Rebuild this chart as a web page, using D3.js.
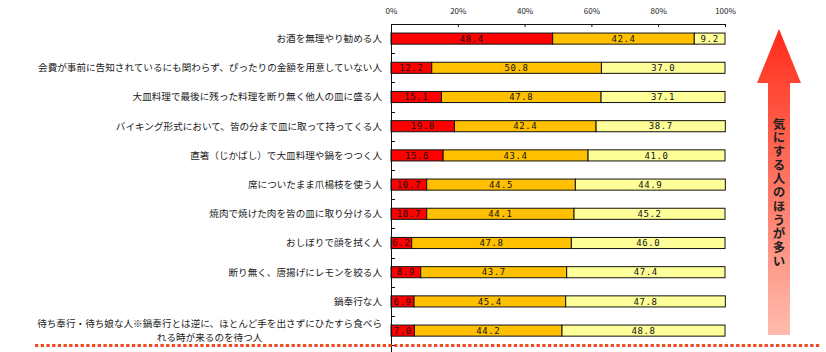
<!DOCTYPE html>
<html>
<head>
<meta charset="utf-8">
<script src="https://cdn.jsdelivr.net/npm/d3@7"></script>
<style>
  body { margin: 0; background: #fff; }
  svg { display: block; }
  .cat { font-family: "Noto Sans CJK JP", sans-serif; font-size: 9.6px; fill: #1a1a1a; }
  .val { font-family: "DejaVu Sans Mono", monospace; font-size: 9px; fill: #111; }
  .x.axis text { font-family: "Noto Sans CJK JP", sans-serif; font-size: 8px; fill: #222; }
</style>
</head>
<body>
<div id="chart"></div>
<script>
var categories = [
  "お酒を無理やり勧める人",
  "会費が事前に告知されているにも関わらず、ぴったりの金額を用意していない人",
  "大皿料理で最後に残った料理を断り無く他人の皿に盛る人",
  "バイキング形式において、皆の分まで皿に取って持ってくる人",
  "直箸（じかばし）で大皿料理や鍋をつつく人",
  "席についたまま爪楊枝を使う人",
  "焼肉で焼けた肉を皆の皿に取り分ける人",
  "おしぼりで顔を拭く人",
  "断り無く、唐揚げにレモンを絞る人",
  "鍋奉行な人",
  "待ち奉行・待ち娘な人※鍋奉行とは逆に、ほとんど手を出さずにひたすら食べら\nれる時が来るのを待つ人"
]
var seriesA = [48.4, 12.2, 15.1, 19.0, 15.6, 10.7, 10.7, 6.2, 8.9, 6.9, 7.0]
var seriesB = [42.4, 50.8, 47.8, 42.4, 43.4, 44.5, 44.1, 47.8, 43.7, 45.4, 44.2]
var seriesC = [9.2, 37.0, 37.1, 38.7, 41.0, 44.9, 45.2, 46.0, 47.4, 47.8, 48.8]
var tickValues = [0, 20, 40, 60, 80, 100]
var arrowText = "気にする人のほうが多い"

var colors = ["#ff0000", "#ffc000", "#ffff99"]

var W = 826, H = 352
var svg = d3.select("#chart").append("svg").attr("width", W).attr("height", H)

var x = d3.scaleLinear().domain([0, 100]).range([391, 725])
var y = d3.scaleBand().domain(d3.range(categories.length))
    .range([24, 345.2]).paddingInner(0.62).paddingOuter(0.31)

// stacked data
var rows = categories.map(function(c, i) { return {a: seriesA[i], b: seriesB[i], c: seriesC[i]} })
var layers = d3.stack().keys(["a", "b", "c"])(rows)

var layer = svg.selectAll(".layer").data(layers).enter().append("g")
    .attr("class", "layer")
    .attr("fill", function(d, i) { return colors[i] })

layer.selectAll("rect").data(function(d) { return d }).enter().append("rect")
    .attr("x", function(d) { return x(d[0]) })
    .attr("y", function(d, i) { return y(i) })
    .attr("width", function(d) { return x(d[1]) - x(d[0]) })
    .attr("height", y.bandwidth())
    .attr("stroke", "#111")
    .attr("stroke-width", 1)

layer.selectAll("text").data(function(d) { return d }).enter().append("text")
    .attr("class", "val")
    .attr("x", function(d) { return (x(d[0]) + x(d[1])) / 2 })
    .attr("y", function(d, i) { return y(i) + y.bandwidth() / 2 })
    .attr("dy", "0.36em")
    .attr("text-anchor", "middle")
    .style("letter-spacing", "0.6px")
    .text(function(d) { return (d[1] - d[0]).toFixed(1) })

// top axis
var xAxis = d3.axisTop(x).tickValues(tickValues)
    .tickFormat(function(d) { return d + "%" })
    .tickSizeInner(-3).tickSizeOuter(0).tickPadding(10.5)
svg.append("g").attr("class", "x axis")
    .attr("transform", "translate(0,24)")
    .call(xAxis)
svg.selectAll(".x.axis path, .x.axis line").attr("stroke", "#111")

// left axis line with boundary ticks
svg.append("line").attr("x1", x(0) + 0.5).attr("x2", x(0) + 0.5)
    .attr("y1", 24).attr("y2", H).attr("stroke", "#111")
var gap = (y.step() - y.bandwidth()) / 2
svg.selectAll(".btick").data(d3.range(1, categories.length + 1)).enter().append("line")
    .attr("x1", x(0)).attr("x2", x(0) + 4)
    .attr("y1", function(i) { return Math.round(y(i - 1) + y.bandwidth() + gap) + 0.5 })
    .attr("y2", function(i) { return Math.round(y(i - 1) + y.bandwidth() + gap) + 0.5 })
    .attr("stroke", "#111")

// category labels (wrapped label: first line right-aligned, second centred under it)
var labelRight = 382
categories.forEach(function(c, i) {
  var lines = c.split("\n")
  var cy = y(i) + y.bandwidth() / 2
  var t = svg.append("text").attr("class", "cat")
  if (lines.length === 1) {
    t.attr("x", labelRight).attr("y", cy).attr("dy", "0.36em")
      .attr("text-anchor", "end").text(c)
  } else {
    var s1 = t.append("tspan").attr("x", labelRight).attr("y", cy - 6.8)
      .attr("dy", "0.36em").attr("text-anchor", "end").text(lines[0])
    var w1 = s1.node().getComputedTextLength()
    t.append("tspan").attr("x", labelRight - w1 / 2).attr("y", cy + 7.2)
      .attr("dy", "0.36em").attr("text-anchor", "middle").text(lines[1])
  }
})

// dotted red line
svg.append("line").attr("x1", 35).attr("x2", 820)
    .attr("y1", 345.5).attr("y2", 345.5)
    .attr("stroke", "#f04a22").attr("stroke-width", 3)
    .attr("stroke-dasharray", "3.3,2.4")

// arrow
var defs = svg.append("defs")
var grad = defs.append("linearGradient").attr("id", "arrowGrad")
    .attr("x1", 0).attr("y1", 0).attr("x2", 0).attr("y2", 1)
grad.append("stop").attr("offset", "0%").attr("stop-color", "#ff2a18")
grad.append("stop").attr("offset", "20%").attr("stop-color", "#ff4a36")
grad.append("stop").attr("offset", "100%").attr("stop-color", "#ffbcae")

var ax = 779, tipY = 29, headY = 83, baseY = 335, headHalf = 22, shaftHalf = 11
var pts = [[ax, tipY], [ax + headHalf, headY], [ax + shaftHalf, headY], [ax + shaftHalf, baseY],
           [ax - shaftHalf, baseY], [ax - shaftHalf, headY], [ax - headHalf, headY]]
svg.append("path").attr("d", d3.line()(pts) + "Z").attr("fill", "url(#arrowGrad)")

// vertical caption in arrow
svg.append("text")
    .attr("x", ax).attr("y", 193)
    .attr("text-anchor", "middle")
    .style("writing-mode", "vertical-rl")
    .style("text-orientation", "upright")
    .style("font-family", "'Noto Sans CJK JP', sans-serif")
    .style("font-size", "12.5px").style("font-weight", "bold")
    .style("letter-spacing", "1.2px")
    .style("fill", "#222")
    .text(arrowText)
</script>
</body>
</html>
